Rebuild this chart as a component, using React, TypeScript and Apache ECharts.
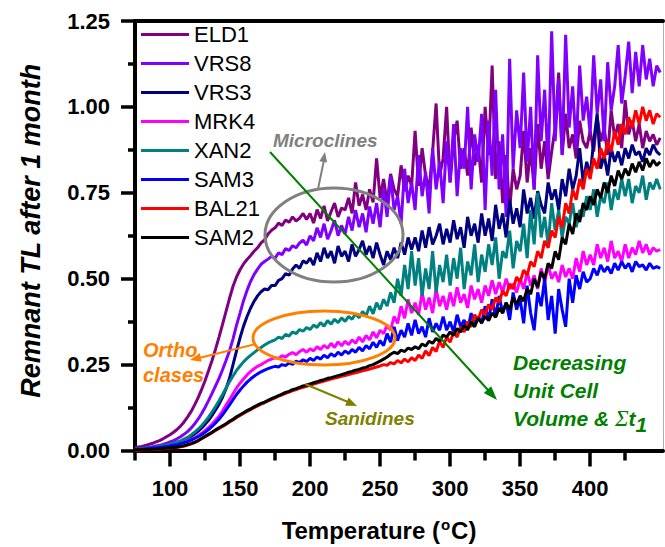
import React, { useEffect, useRef } from "react";
import * as echarts from "echarts";

// Sampling grid (°C)
const temperatures: number[] = Array.from({ length: 151 }, (_, i) => 75 + i * 2.5);

const seriesNames = ["ELD1", "VRS8", "VRS3", "MRK4", "XAN2", "SAM3", "BAL21", "SAM2"];
const seriesColors = ["#800080", "#8000FF", "#000080", "#FF00FF", "#008080", "#0000FF", "#FF0000", "#000000"];

const eld1 = [
  0.008,0.010,0.012,0.015,0.018,0.021,0.025,0.029,0.034,0.040,
  0.046,0.053,0.061,0.071,0.083,0.097,0.113,0.132,0.153,0.177,
  0.203,0.232,0.262,0.295,0.330,0.367,0.405,0.443,0.478,0.505,
  0.526,0.543,0.556,0.567,0.580,0.590,0.604,0.613,0.630,0.641,
  0.648,0.662,0.655,0.671,0.664,0.680,0.668,0.676,0.690,0.672,
  0.690,0.662,0.701,0.675,0.712,0.668,0.695,0.720,0.680,0.706,
  0.700,0.735,0.690,0.780,0.712,0.745,0.700,0.760,0.722,0.850,
  0.735,0.790,0.720,0.805,0.760,0.740,0.830,0.755,0.800,0.770,
  0.930,0.770,0.880,0.800,0.760,0.870,1.010,0.800,0.850,1.000,
  0.780,0.900,0.960,0.820,0.880,0.800,0.940,0.830,0.890,0.780,
  1.000,0.860,1.120,0.790,0.900,0.720,0.860,0.700,0.820,0.760,
  0.800,0.930,0.780,0.880,0.760,0.950,0.820,0.900,0.790,0.870,
  0.940,1.100,0.860,0.980,0.880,0.920,0.850,0.960,0.900,0.880,
  0.930,0.870,0.970,0.900,0.940,0.860,0.990,0.910,0.950,0.880,
  1.020,0.920,0.960,0.900,0.950,0.880,0.930,0.900,0.920,0.890,
  0.910,
];

const vrs8 = [
  0.004,0.005,0.006,0.007,0.009,0.011,0.013,0.015,0.018,0.021,
  0.025,0.029,0.034,0.040,0.047,0.055,0.065,0.077,0.091,0.107,
  0.125,0.145,0.166,0.188,0.210,0.235,0.262,0.290,0.325,0.365,
  0.400,0.436,0.466,0.492,0.512,0.528,0.542,0.550,0.557,0.565,
  0.560,0.575,0.570,0.588,0.582,0.596,0.590,0.604,0.612,0.598,
  0.625,0.610,0.648,0.620,0.660,0.615,0.640,0.670,0.625,0.655,
  0.630,0.680,0.640,0.700,0.650,0.690,0.635,0.710,0.660,0.720,
  0.650,0.760,0.680,0.800,0.700,0.740,0.660,0.820,0.720,0.780,
  0.700,0.860,0.740,0.810,0.690,0.880,0.760,0.840,0.720,0.900,
  0.780,0.950,0.740,0.880,0.820,1.000,0.760,0.920,0.840,0.980,
  0.700,0.960,0.800,1.050,0.760,0.920,0.680,1.140,0.820,0.990,
  0.880,1.100,0.840,1.000,0.760,1.150,0.900,1.050,0.820,1.220,
  0.900,1.080,0.860,1.210,0.940,1.060,0.880,1.120,0.960,1.030,
  0.920,1.150,0.980,1.080,0.900,1.130,0.990,1.060,1.180,1.010,
  1.090,1.190,1.040,1.160,1.060,1.180,1.080,1.140,1.060,1.120,
  1.100,
];

const vrs3 = [
  0.003,0.004,0.004,0.005,0.006,0.007,0.008,0.010,0.012,0.014,
  0.016,0.019,0.022,0.026,0.030,0.035,0.041,0.048,0.056,0.065,
  0.076,0.088,0.102,0.118,0.135,0.155,0.180,0.210,0.250,0.290,
  0.328,0.362,0.390,0.414,0.434,0.450,0.462,0.470,0.468,0.480,
  0.480,0.495,0.500,0.515,0.510,0.528,0.540,0.530,0.552,0.545,
  0.560,0.540,0.575,0.550,0.590,0.560,0.580,0.545,0.595,0.565,
  0.580,0.550,0.600,0.565,0.585,0.610,0.570,0.595,0.560,0.605,
  0.570,0.540,0.580,0.555,0.590,0.560,0.605,0.570,0.620,0.585,
  0.620,0.580,0.640,0.590,0.650,0.600,0.625,0.660,0.600,0.645,
  0.605,0.670,0.615,0.650,0.590,0.680,0.625,0.660,0.605,0.690,
  0.625,0.675,0.610,0.715,0.645,0.690,0.620,0.730,0.660,0.705,
  0.650,0.760,0.690,0.735,0.675,0.755,0.715,0.690,0.780,0.730,
  0.760,0.700,0.790,0.740,0.820,0.760,0.800,0.880,0.780,0.840,
  0.800,0.900,0.980,0.820,0.860,0.800,0.880,0.840,0.870,0.830,
  0.880,0.850,0.890,0.860,0.870,0.840,0.880,0.860,0.890,0.870,
  0.860,
];

const mrk4 = [
  0.003,0.004,0.004,0.005,0.006,0.007,0.008,0.009,0.010,0.012,
  0.014,0.016,0.018,0.021,0.024,0.028,0.032,0.037,0.043,0.050,
  0.058,0.067,0.077,0.088,0.100,0.115,0.132,0.148,0.165,0.182,
  0.196,0.208,0.220,0.230,0.238,0.245,0.250,0.256,0.262,0.266,
  0.270,0.268,0.276,0.272,0.280,0.285,0.279,0.288,0.294,0.286,
  0.296,0.290,0.302,0.294,0.306,0.298,0.312,0.300,0.316,0.305,
  0.318,0.308,0.322,0.312,0.330,0.316,0.335,0.322,0.345,0.328,
  0.350,0.340,0.365,0.350,0.390,0.370,0.420,0.385,0.440,0.400,
  0.430,0.395,0.460,0.410,0.445,0.400,0.470,0.420,0.450,0.410,
  0.460,0.420,0.475,0.430,0.455,0.415,0.480,0.440,0.470,0.430,
  0.480,0.450,0.495,0.455,0.490,0.460,0.500,0.470,0.485,0.460,
  0.500,0.470,0.520,0.480,0.510,0.470,0.530,0.490,0.540,0.500,
  0.520,0.490,0.540,0.505,0.530,0.500,0.560,0.520,0.580,0.540,
  0.570,0.540,0.600,0.560,0.590,0.550,0.610,0.560,0.580,0.550,
  0.600,0.560,0.590,0.570,0.610,0.575,0.600,0.570,0.590,0.580,
  0.585,
];

const xan2 = [
  0.004,0.005,0.006,0.007,0.008,0.009,0.010,0.012,0.014,0.016,
  0.018,0.021,0.024,0.028,0.033,0.038,0.045,0.053,0.062,0.072,
  0.084,0.097,0.112,0.128,0.145,0.163,0.182,0.200,0.217,0.233,
  0.246,0.258,0.268,0.277,0.285,0.293,0.300,0.307,0.313,0.318,
  0.322,0.330,0.326,0.338,0.333,0.345,0.340,0.352,0.347,0.358,
  0.352,0.365,0.358,0.372,0.362,0.378,0.368,0.382,0.372,0.386,
  0.376,0.390,0.382,0.398,0.386,0.405,0.392,0.420,0.398,0.430,
  0.410,0.440,0.420,0.460,0.430,0.500,0.450,0.540,0.470,0.580,
  0.480,0.560,0.450,0.530,0.470,0.580,0.460,0.540,0.490,0.570,
  0.480,0.560,0.500,0.590,0.470,0.550,0.510,0.600,0.490,0.570,
  0.520,0.600,0.540,0.620,0.500,0.580,0.560,0.640,0.530,0.610,
  0.580,0.660,0.560,0.700,0.600,0.750,0.620,0.680,0.600,0.720,
  0.640,0.700,0.620,0.680,0.660,0.720,0.650,0.700,0.680,0.740,
  0.700,0.760,0.680,0.740,0.720,0.780,0.700,0.760,0.730,0.790,
  0.740,0.790,0.720,0.770,0.750,0.800,0.730,0.780,0.760,0.790,
  0.760,
];

const sam3 = [
  0.003,0.004,0.004,0.005,0.006,0.007,0.008,0.009,0.010,0.012,
  0.013,0.015,0.017,0.020,0.023,0.026,0.030,0.035,0.040,0.046,
  0.053,0.061,0.070,0.080,0.091,0.104,0.118,0.133,0.148,0.163,
  0.176,0.188,0.199,0.208,0.216,0.223,0.229,0.234,0.238,0.242,
  0.245,0.243,0.250,0.247,0.255,0.251,0.260,0.256,0.264,0.259,
  0.268,0.262,0.272,0.266,0.277,0.270,0.282,0.274,0.286,0.278,
  0.290,0.282,0.294,0.286,0.300,0.290,0.305,0.296,0.315,0.300,
  0.320,0.305,0.340,0.315,0.360,0.320,0.350,0.330,0.370,0.335,
  0.380,0.340,0.360,0.330,0.385,0.345,0.370,0.350,0.390,0.350,
  0.375,0.345,0.395,0.360,0.380,0.350,0.400,0.365,0.390,0.370,
  0.420,0.380,0.440,0.390,0.450,0.400,0.430,0.380,0.460,0.410,
  0.440,0.370,0.480,0.400,0.350,0.460,0.420,0.500,0.380,0.450,
  0.340,0.470,0.410,0.360,0.500,0.430,0.510,0.470,0.520,0.490,
  0.500,0.530,0.510,0.540,0.520,0.535,0.515,0.545,0.525,0.550,
  0.530,0.545,0.520,0.550,0.535,0.540,0.525,0.545,0.530,0.535,
  0.530,
];

const bal21 = [
  0.001,0.001,0.002,0.002,0.002,0.003,0.003,0.004,0.005,0.006,
  0.007,0.008,0.009,0.011,0.013,0.016,0.019,0.023,0.028,0.034,
  0.040,0.046,0.052,0.058,0.064,0.070,0.076,0.083,0.089,0.096,
  0.102,0.108,0.114,0.119,0.125,0.130,0.135,0.139,0.144,0.149,
  0.153,0.158,0.162,0.166,0.170,0.174,0.177,0.181,0.184,0.187,
  0.190,0.193,0.196,0.199,0.202,0.205,0.208,0.211,0.213,0.216,
  0.218,0.221,0.224,0.226,0.229,0.232,0.234,0.237,0.240,0.243,
  0.246,0.250,0.248,0.256,0.252,0.262,0.255,0.266,0.258,0.270,
  0.262,0.278,0.268,0.290,0.276,0.300,0.288,0.318,0.300,0.330,
  0.315,0.345,0.330,0.360,0.345,0.375,0.360,0.395,0.380,0.410,
  0.395,0.425,0.410,0.445,0.430,0.465,0.450,0.485,0.470,0.505,
  0.490,0.525,0.510,0.550,0.535,0.580,0.560,0.610,0.590,0.640,
  0.620,0.680,0.650,0.720,0.690,0.760,0.730,0.790,0.760,0.820,
  0.790,0.850,0.820,0.880,0.850,0.900,0.870,0.930,0.890,0.950,
  0.920,0.970,0.940,0.990,0.950,1.000,0.960,0.990,0.950,0.980,
  0.970,
];

const sam2 = [
  0.002,0.002,0.003,0.003,0.003,0.004,0.004,0.005,0.006,0.007,
  0.008,0.009,0.010,0.012,0.014,0.017,0.020,0.024,0.029,0.035,
  0.041,0.047,0.053,0.060,0.066,0.072,0.078,0.085,0.091,0.098,
  0.104,0.110,0.116,0.121,0.127,0.132,0.137,0.141,0.146,0.151,
  0.155,0.160,0.164,0.169,0.172,0.177,0.180,0.184,0.188,0.190,
  0.194,0.197,0.200,0.204,0.206,0.210,0.212,0.215,0.218,0.221,
  0.224,0.228,0.230,0.234,0.236,0.240,0.242,0.247,0.250,0.255,
  0.260,0.266,0.272,0.280,0.286,0.282,0.292,0.288,0.298,0.294,
  0.302,0.296,0.310,0.304,0.318,0.312,0.326,0.318,0.336,0.330,
  0.345,0.335,0.355,0.345,0.365,0.352,0.375,0.360,0.385,0.372,
  0.390,0.378,0.400,0.388,0.415,0.400,0.430,0.410,0.445,0.425,
  0.450,0.435,0.470,0.455,0.500,0.475,0.520,0.500,0.545,0.530,
  0.580,0.555,0.620,0.600,0.660,0.630,0.690,0.665,0.720,0.700,
  0.740,0.715,0.760,0.735,0.780,0.750,0.800,0.770,0.815,0.790,
  0.820,0.800,0.835,0.810,0.840,0.815,0.850,0.825,0.845,0.830,
  0.840,
];

const seriesValues = [eld1, vrs8, vrs3, mrk4, xan2, sam3, bal21, sam2];

const xMin = 75;
const xMax = 452;
const xMajorTicks = [100, 150, 200, 250, 300, 350, 400];
const xMinorTicks = [75, 125, 175, 225, 275, 325, 375, 425];
const yMin = 0;
const yMax = 1.25;
const yInterval = 0.25;

const FONT = "Liberation Sans, Arial, sans-serif";
const SERIF = "Liberation Serif, DejaVu Serif, serif";

export default function App() {
  const ref = useRef<HTMLDivElement>(null);

  useEffect(() => {
    if (!ref.current) return;
    const chart = echarts.init(ref.current, undefined, { renderer: "svg" });

    const series = seriesNames.map((name, k) => ({
      name,
      type: "line",
      xAxisIndex: 0,
      yAxisIndex: 0,
      showSymbol: false,
      symbol: "none",
      clip: true,
      lineStyle: { width: 3, color: seriesColors[k] },
      itemStyle: { color: seriesColors[k] },
      data: seriesValues[k].map((v, i) => [temperatures[i], v]),
    }));

    const tickStyle = { color: "#000", width: 3.5 };
    const Z = 100;

    const txt = (text: string, x: number, y: number, fill: string, size: number, extra: any = {}) => ({
      type: "text",
      z: Z,
      x,
      y,
      style: {
        text,
        fill,
        fontSize: size,
        fontWeight: "bold",
        fontStyle: "italic",
        fontFamily: FONT,
        align: "left",
        verticalAlign: "middle",
        textAlign: "left",
        textVerticalAlign: "middle",
        ...extra,
      },
    });

    const option: any = {
      animation: false,
      color: seriesColors,
      grid: { left: 135, right: 2, top: 21, bottom: 96, containLabel: false },
      legend: {
        orient: "vertical",
        left: 141,
        top: 20,
        padding: 0,
        itemWidth: 48,
        itemHeight: 3,
        itemGap: 0,
        icon: "rect",
        selectedMode: false,
        textStyle: { fontSize: 22, fontFamily: FONT, color: "#000", lineHeight: 29 },
        data: seriesNames,
      },
      xAxis: [
        {
          type: "value",
          min: xMin,
          max: xMax,
          position: "bottom",
          axisLine: { show: true, onZero: false, lineStyle: { color: "#000", width: 4 } },
          axisTick: { show: true, customValues: xMinorTicks, length: 10, lineStyle: tickStyle },
          axisLabel: { show: false },
          splitLine: { show: false },
        },
        {
          type: "value",
          min: xMin,
          max: xMax,
          position: "bottom",
          axisLine: { show: false, onZero: false },
          axisTick: { show: true, customValues: xMajorTicks, length: 16, lineStyle: tickStyle },
          axisLabel: {
            show: true,
            customValues: xMajorTicks,
            fontSize: 22,
            fontWeight: "bold",
            fontFamily: FONT,
            color: "#000",
            margin: 27,
          },
          splitLine: { show: false },
          name: "Temperature ({sup|o}C)",
          nameLocation: "middle",
          nameGap: 66,
          nameTextStyle: {
            fontSize: 24,
            fontWeight: "bold",
            fontFamily: FONT,
            color: "#000",
            padding: [0, 40, 0, 0],
            rich: {
              sup: {
                fontSize: 15,
                fontWeight: "bold",
                fontFamily: FONT,
                color: "#000",
                padding: [0, 1, 12, 1],
              },
            },
          },
        },
        {
          type: "value",
          min: xMin,
          max: xMax,
          position: "top",
          axisLine: { show: true, onZero: false, lineStyle: { color: "#000", width: 4 } },
          axisTick: { show: false },
          axisLabel: { show: false },
          splitLine: { show: false },
        },
      ],
      yAxis: [
        {
          type: "value",
          min: yMin,
          max: yMax,
          interval: yInterval,
          position: "left",
          axisLine: { show: true, onZero: false, lineStyle: { color: "#000", width: 4 } },
          axisTick: { show: true, length: 14, lineStyle: tickStyle },
          minorTick: { show: true, splitNumber: 2, length: 7, lineStyle: tickStyle },
          axisLabel: {
            formatter: (v: number) => v.toFixed(2),
            fontSize: 22,
            fontWeight: "bold",
            fontFamily: FONT,
            color: "#000",
            margin: 25,
          },
          splitLine: { show: false },
          minorSplitLine: { show: false },
          name: "Remnant TL after 1 month",
          nameLocation: "middle",
          nameGap: 91,
          nameTextStyle: {
            fontSize: 27,
            fontWeight: "bold",
            fontStyle: "italic",
            fontFamily: FONT,
            color: "#000",
            padding: [0, 0, 0, 10],
          },
        },
        {
          type: "value",
          min: yMin,
          max: yMax,
          position: "right",
          axisLine: { show: true, onZero: false, lineStyle: { color: "#b0b0b0", width: 1 } },
          axisTick: { show: false },
          axisLabel: { show: false },
          splitLine: { show: false },
        },
      ],
      series,
      graphic: [
        // Microclines
        {
          type: "ellipse",
          z: Z,
          shape: { cx: 334, cy: 235, rx: 69, ry: 47 },
          style: { fill: "none", stroke: "#808080", lineWidth: 3 },
        },
        {
          type: "line",
          z: Z,
          shape: { x1: 318, y1: 189, x2: 324, y2: 160 },
          style: { stroke: "#808080", lineWidth: 2 },
        },
        {
          type: "polygon",
          z: Z,
          shape: { points: [[325, 152], [327.2, 162.6], [319.3, 161.2]] },
          style: { fill: "#808080" },
        },
        txt("Microclines", 273, 140, "#808080", 19),
        // Orthoclases
        {
          type: "ellipse",
          z: Z,
          shape: { cx: 324, cy: 338, rx: 71, ry: 27 },
          style: { fill: "none", stroke: "#FF8000", lineWidth: 3 },
        },
        {
          type: "line",
          z: Z,
          shape: { x1: 256, y1: 344, x2: 199, y2: 358 },
          style: { stroke: "#FF8000", lineWidth: 2 },
        },
        {
          type: "polygon",
          z: Z,
          shape: { points: [[190, 360], [201.7, 361.8], [199.7, 353.1]] },
          style: { fill: "#FF8000" },
        },
        txt("Ortho", 143, 350, "#FF8000", 20),
        txt("clases", 143, 375, "#FF8000", 20),
        // Sanidines
        {
          type: "line",
          z: Z,
          shape: { x1: 305, y1: 384, x2: 348, y2: 402 },
          style: { stroke: "#808000", lineWidth: 2 },
        },
        {
          type: "polygon",
          z: Z,
          shape: { points: [[357, 406], [345.1, 405.8], [348.6, 397.6]] },
          style: { fill: "#808000" },
        },
        txt("Sanidines", 325, 418, "#808000", 19),
        // Decreasing unit cell arrow
        {
          type: "line",
          z: Z,
          shape: { x1: 270, y1: 152, x2: 488, y2: 390 },
          style: { stroke: "#008000", lineWidth: 2 },
        },
        {
          type: "polygon",
          z: Z,
          shape: { points: [[497, 400], [483.8, 393.1], [491.2, 386.3]] },
          style: { fill: "#008000" },
        },
        txt("Decreasing", 513, 362, "#008000", 21),
        txt("Unit Cell", 513, 390, "#008000", 21),
        txt("Volume & {sig|Σ}t{sub|1}", 513, 418, "#008000", 21, {
          rich: {
            sig: {
              fill: "#008000",
              fontSize: 23,
              fontStyle: "italic",
              fontWeight: "normal",
              fontFamily: SERIF,
            },
            sub: {
              fill: "#008000",
              fontSize: 21,
              fontStyle: "italic",
              fontWeight: "bold",
              fontFamily: FONT,
              padding: [12, 0, 0, 0],
            },
          },
        }),
      ],
    };

    chart.setOption(option);
    return () => {
      chart.dispose();
    };
  }, []);

  return (
    <div
      ref={ref}
      style={{ position: "fixed", left: 0, top: 0, width: 665, height: 547, background: "#fff" }}
    />
  );
}
